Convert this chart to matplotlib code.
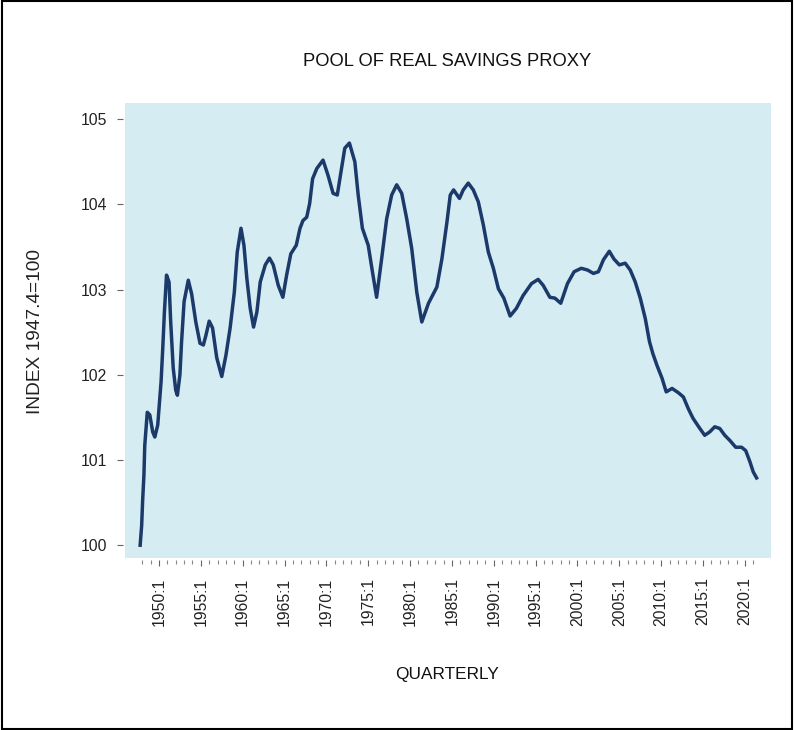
import matplotlib
matplotlib.use("Agg")
import matplotlib.pyplot as plt
from matplotlib.patches import Rectangle

# Quarterly index (decimal year, index 1947.4=100)
years = [1947.75, 1947.93, 1948.05, 1948.2, 1948.3, 1948.6, 1948.9, 1949.25, 1949.5, 1949.85,
         1950.0, 1950.25, 1950.45, 1950.65, 1950.9, 1951.2, 1951.4, 1951.7, 1952.0, 1952.2,
         1952.5, 1952.7, 1953.0, 1953.5, 1953.9, 1954.4, 1954.9, 1955.3, 1955.6, 1956.0,
         1956.4, 1956.9, 1957.5, 1958.0, 1958.5, 1959.0, 1959.35, 1959.8, 1960.15, 1960.5,
         1960.9, 1961.3, 1961.7, 1962.1, 1962.7, 1963.2, 1963.65, 1964.25, 1964.8, 1965.25,
         1965.75, 1966.4, 1966.85, 1967.2, 1967.65, 1968.0, 1968.35, 1968.85, 1969.6, 1970.2,
         1970.8, 1971.3, 1971.8, 1972.2, 1972.75, 1973.4, 1973.8, 1974.3, 1975.0, 1975.5,
         1976.0, 1976.6, 1977.2, 1977.8, 1978.4, 1979.0, 1979.6, 1980.2, 1980.8, 1981.4,
         1982.2, 1983.2, 1983.8, 1984.4, 1984.8, 1985.2, 1985.9, 1986.35, 1986.95, 1987.55,
         1988.15, 1988.75, 1989.35, 1989.95, 1990.55, 1991.2, 1991.95, 1992.7, 1993.5, 1994.5,
         1995.3, 1995.9, 1996.7, 1997.3, 1998.0, 1998.8, 1999.6, 2000.45, 2001.2, 2001.9,
         2002.5, 2003.1, 2003.8, 2004.35, 2005.0, 2005.7, 2006.3, 2006.9, 2007.5, 2008.1,
         2008.6, 2009.0, 2009.5, 2010.1, 2010.6, 2011.3, 2012.05, 2012.65, 2013.25, 2013.8,
         2014.55, 2015.2, 2015.8, 2016.4, 2017.0, 2017.6, 2018.2, 2018.9, 2019.6, 2020.1,
         2020.6, 2021.0, 2021.4]
index = [100.00, 100.23, 100.53, 100.82, 101.17, 101.56, 101.53, 101.33, 101.27, 101.41,
         101.60, 101.92, 102.31, 102.74, 103.17, 103.09, 102.62, 102.08, 101.82, 101.76,
         102.00, 102.39, 102.86, 103.11, 102.95, 102.62, 102.37, 102.35, 102.46, 102.63,
         102.55, 102.20, 101.98, 102.23, 102.55, 102.97, 103.44, 103.72, 103.52, 103.13,
         102.78, 102.56, 102.74, 103.09, 103.29, 103.37, 103.29, 103.05, 102.91, 103.17,
         103.42, 103.52, 103.72, 103.81, 103.85, 104.01, 104.30, 104.42, 104.52, 104.34,
         104.13, 104.11, 104.42, 104.66, 104.72, 104.50, 104.11, 103.72, 103.52, 103.21,
         102.91, 103.36, 103.83, 104.11, 104.23, 104.13, 103.83, 103.48, 102.97, 102.62,
         102.84, 103.03, 103.36, 103.79, 104.11, 104.17, 104.07, 104.17, 104.25, 104.17,
         104.03, 103.76, 103.44, 103.25, 103.01, 102.90, 102.69, 102.78, 102.93, 103.07,
         103.12, 103.05, 102.91, 102.90, 102.84, 103.07, 103.21, 103.25, 103.23, 103.19,
         103.21, 103.35, 103.45, 103.36, 103.29, 103.31, 103.23, 103.09, 102.90, 102.66,
         102.39, 102.25, 102.11, 101.96, 101.80, 101.84, 101.79, 101.74, 101.60, 101.49,
         101.38, 101.29, 101.33, 101.39, 101.37, 101.29, 101.23, 101.15, 101.15, 101.11,
         100.98, 100.86, 100.79]

tick_years = list(range(1950, 2021, 5))
tick_labels = [str(y) + ":1" for y in tick_years]
minor_years = list(range(1948, 2022))
y_ticks = [100, 101, 102, 103, 104, 105]

font = ['Liberation Sans', 'DejaVu Sans']

fig = plt.figure(figsize=(7.94, 7.30), dpi=100)
ax = fig.add_axes([125 / 794, 1 - 558 / 730, 646 / 794, 455 / 730])

ax.set_facecolor('#d6ecf3')
ax.plot(years, index, color='#1b3a6a', linewidth=2.5, solid_joinstyle='round')

ax.set_xlim(1945.94, 2023.12)
ax.set_ylim(99.85, 105.19)

# no frame, ticks sit slightly away from the shaded area
for side in ['top', 'right']:
    ax.spines[side].set_visible(False)
for side in ['left', 'bottom']:
    ax.spines[side].set_position(('outward', 1.5))
    ax.spines[side].set_visible(False)

ax.set_xticks(tick_years)
ax.set_xticklabels(tick_labels, rotation=90, family=font, fontsize=11.3, color='#222222')
ax.set_xticks(minor_years, minor=True)
ax.set_yticks(y_ticks)
ax.set_yticklabels([str(v) for v in y_ticks], family=font, fontsize=11.3, color='#222222')

ax.tick_params(axis='x', which='major', length=4.5, width=0.8, color='#666666', pad=8)
ax.tick_params(axis='x', which='minor', length=3, width=0.8, color='#888888')
ax.tick_params(axis='y', which='major', length=4.5, width=0.8, color='#666666', pad=7)

fig.text(447 / 794, 1 - 61 / 730, "POOL OF REAL SAVINGS PROXY", ha='center', va='center',
         family=font, fontsize=13.2, color='#111111')
fig.text(447 / 794, 1 - 674 / 730, "QUARTERLY", ha='center', va='center',
         family=font, fontsize=12.4, color='#111111')
fig.text(36 / 794, 1 - 331 / 730, "INDEX 1947.4=100", ha='center', va='center', rotation=90,
         family=font, fontsize=13.8, color='#222222')

# thin black border round the whole picture
fig.patches.append(Rectangle((0.002, 0.001), 0.996, 0.997, transform=fig.transFigure,
                             fill=False, edgecolor='black', linewidth=1.5))

plt.savefig("out.png", dpi=100)
